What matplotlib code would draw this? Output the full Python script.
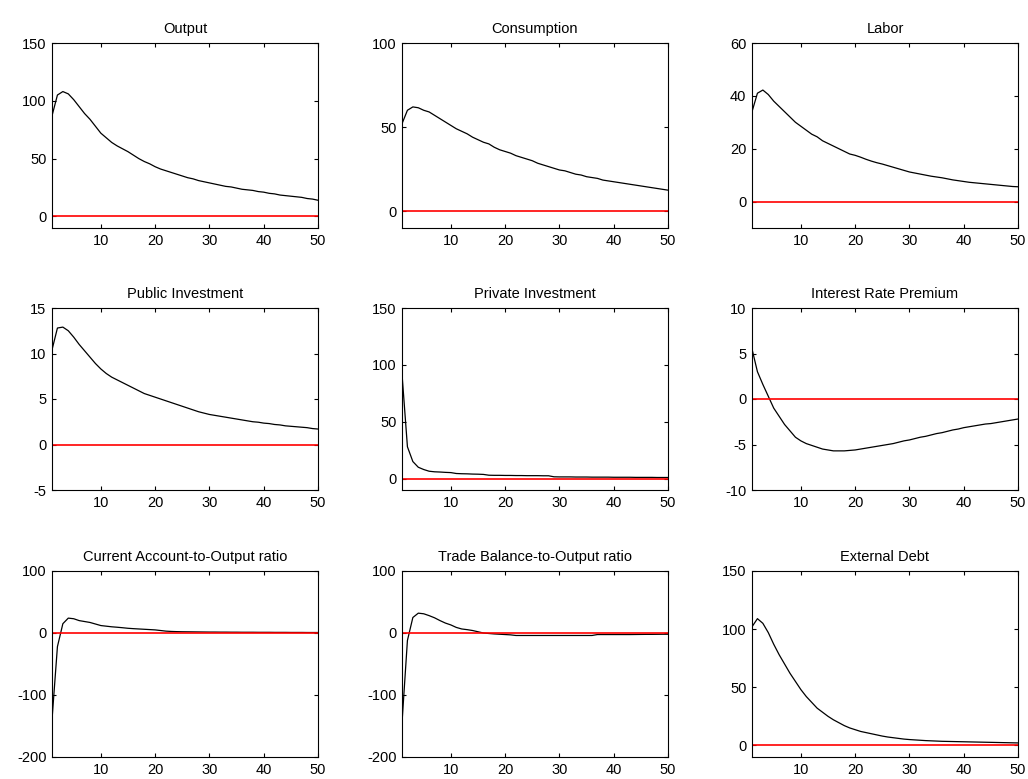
import matplotlib
matplotlib.use("Agg")
import matplotlib.pyplot as plt
import numpy as np

plt.rcParams['font.family'] = ['Liberation Sans', 'DejaVu Sans']
plt.rcParams['axes.unicode_minus'] = False

periods = list(range(1, 51))

output = [87, 105, 108, 106, 101, 95, 89, 84, 78, 72,
          68, 64, 61, 58.5, 56, 53, 50, 47.5, 45.5, 43,
          41, 39.5, 38, 36.5, 35, 33.5, 32.5, 31, 30, 29,
          28, 27, 26, 25.5, 24.5, 23.5, 23, 22.5, 21.5, 21,
          20, 19.5, 18.5, 18, 17.5, 17, 16.5, 15.5, 15, 14]

consumption = [52, 60, 62, 61.5, 60, 59, 57, 55, 53, 51,
               49, 47.5, 46, 44, 42.5, 41, 40, 38, 36.5, 35.5,
               34.5, 33, 32, 31, 30, 28.5, 27.5, 26.5, 25.5, 24.5,
               24, 23, 22, 21.5, 20.5, 20, 19.5, 18.5, 18, 17.5,
               17, 16.5, 16, 15.5, 15, 14.5, 14, 13.5, 13, 12.5]

labor = [34, 41, 42.2, 40.5, 38, 36, 34, 32, 30, 28.5,
         27, 25.5, 24.5, 23, 22, 21, 20, 19, 18, 17.5,
         16.8, 16, 15.3, 14.7, 14.2, 13.6, 13, 12.4, 11.8, 11.2,
         10.8, 10.4, 10, 9.6, 9.3, 9, 8.6, 8.2, 7.9, 7.6,
         7.3, 7.1, 6.9, 6.7, 6.5, 6.3, 6.1, 5.9, 5.7, 5.6]

public_inv = [10.4, 12.8, 12.9, 12.5, 11.8, 11.0, 10.3, 9.6, 8.9, 8.3,
              7.8, 7.4, 7.1, 6.8, 6.5, 6.2, 5.9, 5.6, 5.4, 5.2,
              5.0, 4.8, 4.6, 4.4, 4.2, 4.0, 3.8, 3.6, 3.45, 3.3,
              3.2, 3.1, 3.0, 2.9, 2.8, 2.7, 2.6, 2.5, 2.45, 2.35,
              2.3, 2.2, 2.15, 2.05, 2.0, 1.95, 1.9, 1.85, 1.75, 1.7]

private_inv = [92, 28, 15, 10, 8, 6.5, 6, 5.8, 5.5, 5.3,
               4.5, 4.3, 4.2, 4.0, 3.9, 3.7, 3.0, 2.9, 2.9, 2.8,
               2.8, 2.7, 2.7, 2.6, 2.6, 2.6, 2.5, 2.5, 1.6, 1.5,
               1.5, 1.5, 1.4, 1.4, 1.4, 1.3, 1.3, 1.3, 1.3, 1.2,
               1.2, 1.2, 1.2, 1.1, 1.1, 1.1, 1.1, 1.0, 1.0, 1.0]

interest_premium = [5.5, 3.0, 1.6, 0.3, -1.0, -1.9, -2.8, -3.5, -4.2, -4.6,
                    -4.9, -5.1, -5.3, -5.5, -5.6, -5.7, -5.7, -5.7, -5.65, -5.6,
                    -5.5, -5.4, -5.3, -5.2, -5.1, -5.0, -4.9, -4.75, -4.6, -4.5,
                    -4.35, -4.2, -4.1, -3.95, -3.8, -3.7, -3.55, -3.4, -3.3, -3.15,
                    -3.05, -2.95, -2.85, -2.75, -2.7, -2.6, -2.5, -2.4, -2.3, -2.2]

current_account = [-140, -22, 15, 24, 23, 20, 18.5, 17, 14.5, 12,
                   11, 10, 9.3, 8.5, 7.6, 7, 6.5, 6, 5.5, 5,
                   4, 3, 2.5, 2.2, 2, 1.9, 1.8, 1.7, 1.6, 1.5,
                   1.5, 1.4, 1.4, 1.3, 1.3, 1.2, 1.2, 1.2, 1.1, 1.1,
                   1.1, 1.0, 1.0, 1.0, 0.9, 0.9, 0.9, 0.8, 0.8, 0.8]

trade_balance = [-145, -12, 25, 32, 31, 28, 24.5, 20, 16, 13,
                 9, 6.5, 5.4, 4, 2, 0, -0.8, -1.5, -2, -2.5,
                 -3, -4, -4, -4, -4, -4, -4, -4, -4, -4,
                 -4, -4, -4, -4, -4, -4, -2.5, -2.5, -2.5, -2.5,
                 -2.5, -2.5, -2.5, -2.4, -2.3, -2.2, -2.2, -2.1, -2.0, -2.0]

external_debt = [102, 109, 105, 97, 87, 78, 70, 62, 55, 48,
                 42, 37, 32, 28.5, 25, 22, 19.5, 17, 15, 13.5,
                 12, 11, 10, 9, 8, 7.2, 6.6, 6, 5.4, 5,
                 4.7, 4.4, 4.1, 3.9, 3.7, 3.5, 3.4, 3.3, 3.2, 3.1,
                 3.0, 2.9, 2.8, 2.7, 2.6, 2.5, 2.4, 2.3, 2.2, 2.1]

titles = ["Output", "Consumption", "Labor",
          "Public Investment", "Private Investment", "Interest Rate Premium",
          "Current Account-to-Output ratio", "Trade Balance-to-Output ratio", "External Debt"]
series = [output, consumption, labor,
          public_inv, private_inv, interest_premium,
          current_account, trade_balance, external_debt]
ylims = [(-10, 150), (-10, 100), (-10, 60),
         (-5, 15), (-10, 150), (-10, 10),
         (-200, 100), (-200, 100), (-10, 150)]
yticks = [[0, 50, 100, 150], [0, 50, 100], [0, 20, 40, 60],
          [-5, 0, 5, 10, 15], [0, 50, 100, 150], [-10, -5, 0, 5, 10],
          [-200, -100, 0, 100], [-200, -100, 0, 100], [0, 50, 100, 150]]
xticks = [10, 20, 30, 40, 50]

fig = plt.figure(figsize=(10.28, 7.79), dpi=100)

lefts = [52, 402, 752]
rows = [(43, 228), (308, 490), (571, 757)]
W, H = 1028, 779

for k in range(9):
    r, c = divmod(k, 3)
    top, bot = rows[r]
    ax = fig.add_axes([lefts[c] / W, 1 - bot / H, 266 / W, (bot - top) / H])
    ax.plot(periods, series[k], color='black', lw=0.9)
    ax.plot(periods, np.zeros(len(periods)), color='red', lw=1.2)
    ax.set_xlim(1, 50)
    ax.set_ylim(*ylims[k])
    ax.set_xticks(xticks)
    ax.set_yticks(yticks[k])
    ax.tick_params(direction='in', length=3, width=0.8, top=True, right=True,
                   labelsize=10.5, pad=4, colors='black')
    for sp in ax.spines.values():
        sp.set_linewidth(0.8)
    ax.set_title(titles[k], fontsize=10.5, pad=7)

fig.savefig("out.png", dpi=100)
